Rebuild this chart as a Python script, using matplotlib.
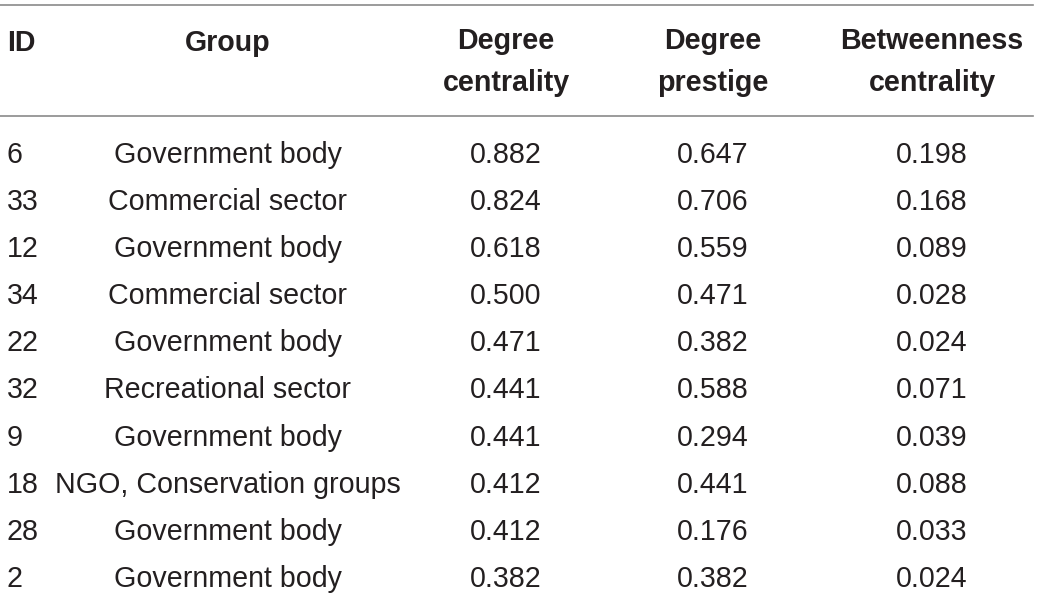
import matplotlib
matplotlib.use("Agg")
import matplotlib.pyplot as plt

ids = ["6", "33", "12", "34", "22", "32", "9", "18", "28", "2"]
groups = ["Government body", "Commercial sector", "Government body", "Commercial sector",
          "Government body", "Recreational sector", "Government body",
          "NGO, Conservation groups", "Government body", "Government body"]
degree_centrality = ["0.882", "0.824", "0.618", "0.500", "0.471", "0.441", "0.441", "0.412", "0.412", "0.382"]
degree_prestige = ["0.647", "0.706", "0.559", "0.471", "0.382", "0.588", "0.294", "0.441", "0.176", "0.382"]
betweenness = ["0.198", "0.168", "0.089", "0.028", "0.024", "0.071", "0.039", "0.088", "0.033", "0.024"]
headers = ["ID", "Group", "Degree\ncentrality", "Degree\nprestige", "Betweenness\ncentrality"]

W, H = 1039, 599
fig = plt.figure(figsize=(W / 100, H / 100), dpi=100)
ax = fig.add_axes([0, 0, 1, 1])
ax.set_xlim(0, W)
ax.set_ylim(H, 0)
ax.axis("off")

color = "#231f20"
fam = ["Liberation Sans", "DejaVu Sans"]
fs = 20.6

col_x = [7, 228, 506, 713, 932]
col_ha = ["left", "center", "center", "center", "center"]

# header
for x, ha, h in zip(col_x, col_ha, headers):
    y = 62 if "\n" in h else 43
    ax.text(x, y, h, ha=ha, va="center", fontsize=fs, fontweight="bold",
            color=color, family=fam, linespacing=1.6)

ax.plot([0, 1033], [5, 5], color="#8a8a8a", lw=1.2)
ax.plot([0, 1033], [116, 116], color="#8a8a8a", lw=1.2)

row_y0, row_dy = 155, 47.1
cols = [ids, groups, degree_centrality, degree_prestige, betweenness]
for i in range(len(ids)):
    y = row_y0 + i * row_dy
    for x, ha, col in zip(col_x, col_ha, cols):
        ax.text(x, y, col[i], ha=ha, va="center", fontsize=fs, color=color, family=fam)

fig.savefig("out.png", dpi=100)
